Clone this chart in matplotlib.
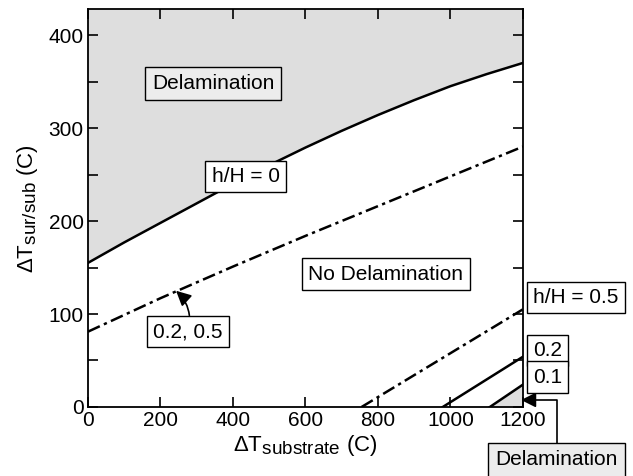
import numpy as np
import matplotlib.pyplot as plt
import matplotlib._mathtext as mtext
from matplotlib.ticker import MultipleLocator

plt.rcParams['font.family'] = ['Liberation Sans', 'DejaVu Sans']
plt.rcParams['mathtext.fontset'] = 'custom'
plt.rcParams['mathtext.rm'] = 'Liberation Sans'
plt.rcParams['mathtext.it'] = 'Liberation Sans:italic'
mtext.SHRINK_FACTOR = 0.85  # subscripts nearly full size as in the original

# h/H = 0 boundary (solid)
t_sub_0 = [0, 100, 200, 300, 400, 500, 600, 700, 800, 900, 1000, 1100, 1200]
t_sur_0 = [155, 177, 198, 219, 240, 260, 279, 297, 314, 330, 345, 358, 370]

# h/H = 0.2 and 0.5 upper branch (dash-dot)
t_sub_025 = [0, 200, 400, 600, 800, 1000, 1200]
t_sur_025 = [81, 117, 151, 184, 216, 248, 280]

# lower branches near the right edge
t_sub_05 = [755, 1200]
t_sur_05 = [0, 105]
t_sub_02 = [979, 1200]
t_sur_02 = [0, 54]
t_sub_01 = [1109, 1200]
t_sur_01 = [0, 24]

fill_gray = '#dedede'
box_gray = '#ececec'
fs = 15

fig = plt.figure(figsize=(6.33, 4.76), dpi=100)
ax = fig.add_axes([0.139, 0.145, 0.687, 0.836])

ymax = 428
ax.fill_between(t_sub_0, t_sur_0, ymax, color=fill_gray, lw=0)
ax.fill_between(t_sub_01, 0, t_sur_01, color=fill_gray, lw=0)

lw = 1.8
dashdot = (0, (5.2, 1.8, 1.3, 1.8))
ax.plot(t_sub_0, t_sur_0, color='black', lw=lw)
ax.plot(t_sub_025, t_sur_025, color='black', lw=lw, linestyle=dashdot)
ax.plot(t_sub_05, t_sur_05, color='black', lw=lw, linestyle=dashdot)
ax.plot(t_sub_02, t_sur_02, color='black', lw=lw)
ax.plot(t_sub_01, t_sur_01, color='black', lw=lw)

ax.set_xlim(0, 1200)
ax.set_ylim(0, ymax)
ax.xaxis.set_major_locator(MultipleLocator(200))
ax.yaxis.set_major_locator(MultipleLocator(100))
ax.yaxis.set_minor_locator(MultipleLocator(50))
ax.tick_params(which='both', direction='in', length=7, width=1.2,
               top=True, right=True, labelsize=fs, pad=3)
for sp in ax.spines.values():
    sp.set_linewidth(1.3)

ax.set_xlabel('ΔT$_{\\rm substrate}$ (C)', fontsize=fs + 1, labelpad=2)
ax.set_ylabel('ΔT$_{\\rm sur/sub}$ (C)', fontsize=fs + 1, labelpad=6)

box_w = dict(boxstyle='square,pad=0.3', fc='white', ec='black', lw=1)
box_g = dict(boxstyle='square,pad=0.35', fc=box_gray, ec='black', lw=1)

ax.text(345, 348, 'Delamination', fontsize=fs, ha='center', va='center', bbox=box_g)
ax.text(435, 248, 'h/H = 0', fontsize=fs, ha='center', va='center', bbox=box_w)
ax.text(822, 143, 'No Delamination', fontsize=fs, ha='center', va='center', bbox=box_w)

ax.annotate('0.2, 0.5', xy=(243, 125), xytext=(276, 81), fontsize=fs,
            ha='center', va='center', bbox=box_w,
            arrowprops=dict(arrowstyle='-|>,head_length=0.6,head_width=0.3',
                            color='black', lw=1.2,
                            connectionstyle='arc3,rad=0.3', shrinkA=0, shrinkB=0))

ax.text(1228, 118, 'h/H = 0.5', fontsize=fs, ha='left', va='center', bbox=box_w, clip_on=False)
ax.text(1228, 61, '0.2', fontsize=fs, ha='left', va='center', bbox=box_w, clip_on=False)
ax.text(1228, 32, '0.1', fontsize=fs, ha='left', va='center', bbox=box_w, clip_on=False)

ax.annotate('Delamination', xy=(1195, 7.5), xytext=(1294, -57), fontsize=fs,
            ha='center', va='center', bbox=box_g, annotation_clip=False,
            arrowprops=dict(arrowstyle='-|>,head_length=0.6,head_width=0.3',
                            color='black', lw=1.2,
                            connectionstyle='angle,angleA=90,angleB=0,rad=0',
                            shrinkA=0, shrinkB=0))

fig.savefig('out.png', dpi=100)
